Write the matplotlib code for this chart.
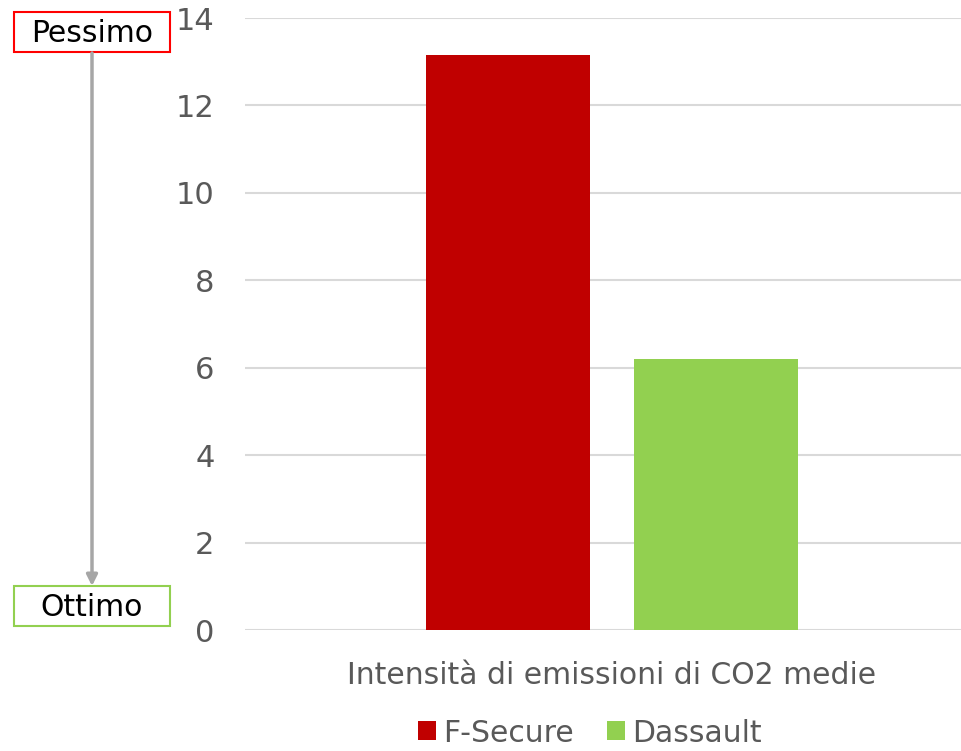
import numpy as np
import matplotlib.pyplot as plt
from matplotlib.patches import Rectangle, FancyArrowPatch

plt.rcParams['font.family'] = ['DejaVu Sans']

category = ['Intensità di emissioni di CO2 medie']
series = ['F-Secure', 'Dassault']
values = [13.15, 6.2]
colors = ['#c00000', '#92d050']
yticks = [0, 2, 4, 6, 8, 10, 12, 14]

W, H = 961, 751
fig = plt.figure(figsize=(W / 100, H / 100), dpi=100)
ax = fig.add_axes([245 / W, 1 - 630 / H, (979 - 245) / W, (630 - 18) / H])

width = 0.2234
offsets = [-0.1417, 0.1417]
for name, v, c, off in zip(series, values, colors, offsets):
    ax.bar(off, v, width=width, color=c, label=name, zorder=3)

ax.set_xlim(-0.5, 0.5)
ax.set_ylim(0, 14)
ax.set_yticks(yticks)
ax.set_xticks([0])
ax.set_xticklabels(category, fontsize=21.5)
ax.yaxis.grid(True, color='#d9d9d9', linewidth=1.5, zorder=0)
for s in ax.spines.values():
    s.set_visible(False)
ax.tick_params(axis='both', length=0, labelcolor='#595959')
ax.tick_params(axis='y', pad=22, labelsize=22)
ax.tick_params(axis='x', pad=22)

leg = fig.legend(loc='center', bbox_to_anchor=(590 / W, 1 - 733 / H), ncol=2,
                 frameon=False, fontsize=21.5, handlelength=0.6, handleheight=0.6,
                 handletextpad=0.25, columnspacing=1.1, borderpad=0)
for t in leg.get_texts():
    t.set_color('#595959')

# Pessimo / Ottimo boxes with arrow
for label, y0, ec in [('Pessimo', 12, '#ff0000'), ('Ottimo', 586, '#92d050')]:
    fig.patches.append(Rectangle((14 / W, 1 - (y0 + 40) / H), 156 / W, 40 / H,
                                 transform=fig.transFigure, facecolor='white',
                                 edgecolor=ec, linewidth=1.5))
    fig.text(92 / W, 1 - (y0 + 22) / H, label, ha='center', va='center',
             fontsize=21.5, color='black')

arrow = FancyArrowPatch((92 / W, 1 - 53 / H), (92 / W, 1 - 586 / H),
                        transform=fig.transFigure, arrowstyle='-|>',
                        mutation_scale=16, color='#a6a6a6', linewidth=2.5,
                        shrinkA=0, shrinkB=0)
fig.patches.append(arrow)

fig.savefig('out.png', dpi=100)
